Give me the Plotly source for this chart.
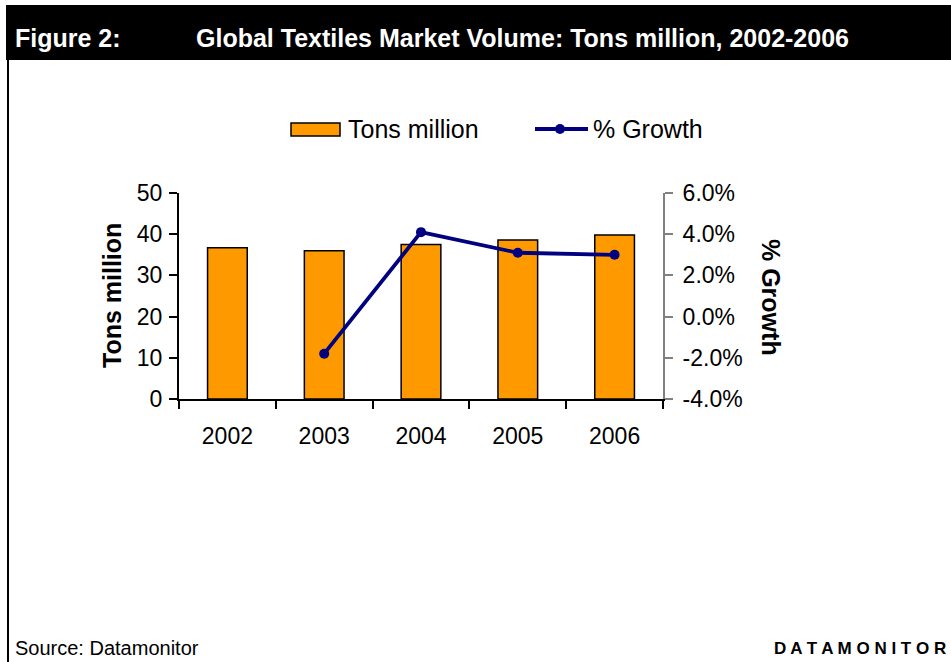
import plotly.graph_objects as go

# Global textiles market volume, 2002-2006
years = ["2002", "2003", "2004", "2005", "2006"]
tons_million = [36.7, 36.0, 37.5, 38.6, 39.8]
growth = [None, -0.018, 0.041, 0.031, 0.030]

# right-axis ticks (fractions) with plain-hyphen labels
growth_ticks = [-0.04, -0.02, 0.0, 0.02, 0.04, 0.06]
growth_labels = ["-4.0%", "-2.0%", "0.0%", "2.0%", "4.0%", "6.0%"]

W, H = 951, 662
PL, PR, PT, PB = 179, 663, 193, 399  # plot area in pixels

FONT = "Liberation Sans, Arial, sans-serif"
ORANGE = "#FF9900"
NAVY = "#000080"


def px(x):
    return (x - PL) / (PR - PL)


def py(y):
    return (PB - y) / (PB - PT)


fig = go.Figure()

fig.add_trace(go.Bar(
    x=years, y=tons_million, name="Tons million",
    marker=dict(color=ORANGE, line=dict(color="black", width=1.5)),
    width=0.41, yaxis="y", showlegend=False,
))
fig.add_trace(go.Scatter(
    x=years, y=growth, name="% Growth", mode="lines+markers",
    line=dict(color=NAVY, width=3.8),
    marker=dict(color=NAVY, size=10),
    yaxis="y2", showlegend=False, connectgaps=False,
))

shapes = [
    # title bar
    dict(type="rect", xref="paper", yref="paper",
         x0=px(6), x1=px(W + 40), y0=py(5), y1=py(60),
         fillcolor="black", line=dict(width=0), layer="below"),
    # left frame line
    dict(type="line", xref="paper", yref="paper",
         x0=px(8), x1=px(8), y0=py(60), y1=py(H + 5),
         line=dict(color="black", width=2)),
    # legend: bar swatch
    dict(type="rect", xref="paper", yref="paper",
         x0=px(291), x1=px(340), y0=py(123), y1=py(136),
         fillcolor=ORANGE, line=dict(color="black", width=1.5)),
    # legend: line swatch
    dict(type="line", xref="paper", yref="paper",
         x0=px(535), x1=px(588), y0=py(129), y1=py(129),
         line=dict(color=NAVY, width=3.8)),
    dict(type="circle", xref="paper", yref="paper",
         x0=px(555), x1=px(565), y0=py(124), y1=py(134),
         fillcolor=NAVY, line=dict(color=NAVY, width=0)),
]

annotations = [
    dict(text="<b>Figure 2:</b>", x=px(13), y=py(38), xanchor="left", yanchor="middle",
         font=dict(family=FONT, size=25, color="white")),
    dict(text="<b>Global Textiles Market Volume: Tons million, 2002-2006</b>",
         x=px(194), y=py(38), xanchor="left", yanchor="middle",
         font=dict(family=FONT, size=25, color="white")),
    dict(text="Tons million", x=px(346), y=py(129), xanchor="left", yanchor="middle",
         font=dict(family=FONT, size=25, color="black")),
    dict(text="% Growth", x=px(591), y=py(129), xanchor="left", yanchor="middle",
         font=dict(family=FONT, size=25, color="black")),
    dict(text="<b>Tons million</b>", x=px(112), y=py(296), textangle=-90,
         xanchor="center", yanchor="middle",
         font=dict(family=FONT, size=25, color="black")),
    dict(text="<b>% Growth</b>", x=px(771), y=py(297), textangle=90,
         xanchor="center", yanchor="middle",
         font=dict(family=FONT, size=25, color="black")),
    dict(text="Source: Datamonitor", x=px(13), y=py(648), xanchor="left", yanchor="middle",
         font=dict(family=FONT, size=20, color="black")),
    dict(text="<b>D A T A M O N I T O R</b>", x=px(948), y=py(648), xanchor="right",
         yanchor="middle", font=dict(family=FONT, size=17, color="black")),
]
for a in annotations:
    a.update(xref="paper", yref="paper", showarrow=False)

fig.update_layout(
    width=W, height=H,
    margin=dict(l=PL, r=W - PR, t=PT, b=H - PB, pad=0),
    paper_bgcolor="white", plot_bgcolor="white",
    font=dict(family=FONT, size=23, color="black"),
    showlegend=False,
    xaxis=dict(
        type="category", range=[-0.5, 4.5],
        showline=True, linecolor="black", linewidth=2,
        ticks="outside", tickson="boundaries", ticklen=8, tickwidth=2, tickcolor="black",
        tickfont=dict(family=FONT, size=23), showgrid=False, zeroline=False,
        ticklabelstandoff=15,
    ),
    yaxis=dict(
        range=[0, 50], dtick=10, tick0=0,
        showline=True, linecolor="black", linewidth=2,
        ticks="outside", ticklen=8, tickwidth=2, tickcolor="black",
        tickfont=dict(family=FONT, size=23), showgrid=False, zeroline=False,
        ticklabelstandoff=2,
    ),
    yaxis2=dict(
        range=[-0.04, 0.06], tickvals=growth_ticks, ticktext=growth_labels,
        overlaying="y", side="right",
        showline=True, linecolor="#808080", linewidth=2,
        ticks="outside", ticklen=8, tickwidth=2, tickcolor="#808080",
        tickfont=dict(family=FONT, size=23), showgrid=False, zeroline=False,
        ticklabelstandoff=5,
    ),
    shapes=shapes,
    annotations=annotations,
)

fig.write_html("out.html")
